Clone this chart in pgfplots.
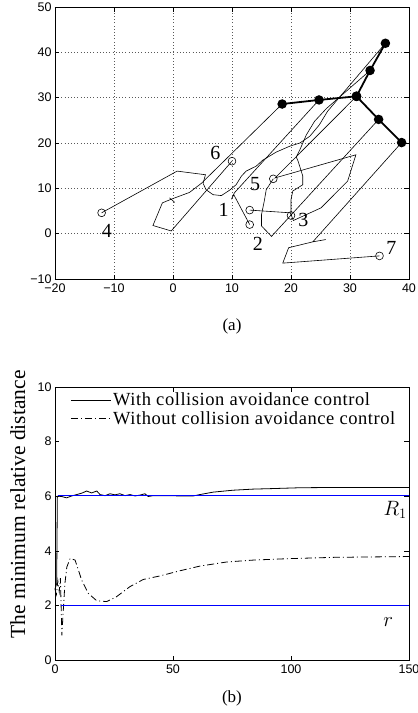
\documentclass[border=0pt]{standalone}
\usepackage{fontspec}
\setmainfont{Liberation Serif}
\newfontfamily\hv{Liberation Sans}
\newfontfamily\legfont[LetterSpace=3]{Liberation Serif}
\usepackage{xcolor}
\usepackage{pgfplots}
\pgfplotsset{compat=1.18}

\begin{document}
\begin{tikzpicture}
\useasboundingbox (-55pt,-434pt) rectangle (363pt,279pt);
\pgfplotsset{
  every axis/.append style={
    scale only axis, width=354pt,
    axis line style={line width=0.7pt},
    tick style={black, line width=0.6pt},
    major tick length=4.5pt,
    tick align=inside,
    tick label style={font=\hv\fontsize{12.5}{14}\selectfont},
    /pgf/number format/assume math mode=true,
    clip=false,
  },
  traj/.style={black, line width=0.6pt},
}

% (a) trajectories of the agents
\begin{axis}[at={(0pt,0pt)}, anchor=south west, height=272pt,
  xmin=-20, xmax=40, ymin=-10, ymax=50,
  xtick={-20,-10,...,40}, xticklabels={−20,−10,0,10,20,30,40},
  ytick={-10,0,...,50}, yticklabels={−10,0,10,20,30,40,50},
  xticklabel style={yshift=-1pt},
  grid=major, grid style={black!65, line width=0.5pt, dash pattern=on 0.6pt off 2.6pt},
]
% agent 1
\addplot[traj] coordinates {(13,5.2)(19.9,4.6)(20.4,2.9)(25.1,5.7)(29.6,11.6)(31.0,17.4)(17.3,12.3)(31.1,30.3)};
% agent 2
\addplot[traj] coordinates {(13,2.0)(10.3,8.6)(9.9,7.6)(10.4,9.0)(24.75,29.5)};
% agent 3
\addplot[traj] coordinates {(20,4)(20,7.5)(20.3,9.4)(22.0,10.8)(22.0,12.7)(21.2,16.0)(20.9,16.9)(21.5,18.5)(22.6,21.8)(24.0,24.8)(26.0,27.6)(33.4,36.0)};
% agent 4
\addplot[traj] coordinates {(-12.1,4.6)(0.7,13.8)(5.5,13.0)(5.1,11.1)(5.6,9.7)(6.8,8.6)(8.2,8.4)(9.6,9.6)(10.7,10.8)(11.6,12.7)(12.4,13.8)(14.1,14.9)(15.2,16.2)(17.5,18.0)(19.8,19.3)(21.5,20.0)(23.2,21.5)(24.8,24.0)(26.2,27.0)(36.0,42.0)};
% agent 5
\addplot[traj] coordinates {(17.0,12.1)(15.8,9.7)(15.5,7.4)(15.0,4.2)(15.0,1.7)(16.7,-0.6)(34.85,25.2)};
% agent 6
\addplot[traj] coordinates {(10,16)(-0.3,0.6)(-3.4,1.8)(-1.8,6.8)(-0.1,7.7)(2.8,9.1)(4.8,11.1)(18.5,28.6)};
\addplot[traj] coordinates {(-0.6,7.9)(0.3,6.9)};
% agent 7
\addplot[traj] coordinates {(35,-4.9)(18.6,-6.5)(19.6,-3.1)(23.7,-1.8)(25.9,-1.3)(23.7,-1.8)(38.75,20.1)};

% starting positions
\addplot[only marks, mark=o, mark size=3.9pt, mark options={line width=0.6pt}] coordinates {
  (13,5.2)(13,2.0)(20,4)(-12.1,4.6)(17.0,12.1)(10,16)(35,-4.9)};

% final formation
\addplot[black, line width=1.8pt, mark=*, mark size=3.8pt] coordinates {(18.5,28.6)(24.75,29.5)(31.1,30.3)};
\addplot[black, line width=1.8pt, mark=*, mark size=3.8pt] coordinates {(31.1,30.3)(33.4,36.0)(36.0,42.0)};
\addplot[black, line width=1.8pt, mark=*, mark size=3.8pt] coordinates {(31.1,30.3)(34.85,25.2)(38.75,20.1)};

\begin{scope}[font=\fontsize{20}{22}\selectfont]
\node at (axis cs:8.6,5.2) {1};
\node at (axis cs:14.4,-2.2) {2};
\node at (axis cs:22.1,3.1) {3};
\node at (axis cs:-11.2,0.7) {4};
\node at (axis cs:13.9,11.0) {5};
\node at (axis cs:7.2,17.8) {6};
\node at (axis cs:37.0,-3.1) {7};
\end{scope}
\node[font=\fontsize{17}{19}\selectfont] at ([yshift=-47pt]rel axis cs:0.5,0) {(a)};
\end{axis}

% (b) minimum relative distance
\begin{axis}[at={(0pt,-108pt)}, anchor=north west, height=273pt,
  xmin=0, xmax=150, ymin=0, ymax=10,
  xtick={0,50,100,150}, ytick={0,2,...,10},
  xticklabel style={yshift=-1pt},
  ylabel={The minimum relative distance},
  ylabel style={font=\fontsize{21.5}{24}\selectfont, at={(axis description cs:-0.105,0.57)}, anchor=center},
  legend style={at={(axis description cs:0.04,0.99)}, anchor=north west, draw=none, fill=none,
    font=\legfont\fontsize{18.5}{20}\selectfont, row sep=0pt, inner sep=1pt},
  legend cell align=left,
  legend image code/.code={\draw[#1] (0pt,0pt) -- (40pt,0pt);},
]
\addplot[black, line width=0.8pt] coordinates {
  (0,2.6)(0.7,2.8)(1.0,6.0)(2.8,5.99)(4.9,5.94)(7.1,6.01)(9.2,6.06)(11.3,6.11)(13.4,6.19)
  (15.5,6.12)(17.7,6.19)(19.1,6.06)(21.2,6.02)(23.3,6.09)(25.4,6.05)(27.5,6.09)(29.7,6.02)
  (31.8,6.06)(33.9,6.01)(36.0,6.04)(38.1,6.09)(39.5,5.99)(41.7,6.02)(47.3,6.02)(53.0,6.01)
  (58.6,6.01)(61.4,6.06)(67.1,6.15)(75.5,6.22)(84.0,6.26)(92.5,6.28)(103.8,6.31)(117.9,6.32)(150,6.32)};
\addlegendentry{With collision avoidance control}
\addplot[black, line width=0.8pt, dash pattern=on 7pt off 3pt on 1pt off 3pt] coordinates {
  (0,2.6)(0.6,2.4)(1.2,2.9)(1.8,2.5)(2.3,3.0)(2.9,0.9)(3.5,1.8)(4.2,2.8)(5.0,3.4)(6.4,3.72)
  (8.5,3.66)(11.3,2.93)(14.1,2.44)(17.7,2.17)(21.9,2.14)(26.1,2.32)(31.8,2.69)(37.4,2.95)
  (44.5,3.08)(53.0,3.27)(61.4,3.44)(72.7,3.59)(84.0,3.66)(98.2,3.71)(117.9,3.76)(150,3.79)};
\addlegendentry{Without collision avoidance control}
\addplot[blue, line width=1.4pt, forget plot] coordinates {(1.2,6.03)(150,6.03)};
\addplot[blue, line width=1.4pt, forget plot] coordinates {(2.4,2.0)(150,2.0)};
\node[font=\fontsize{19.5}{21}\selectfont] at (axis cs:144.1,5.49) {$R_1$};
\node[font=\fontsize{19.5}{21}\selectfont] at (axis cs:141.2,1.40) {$r$};
\node[font=\fontsize{17}{19}\selectfont] at ([yshift=-38pt]rel axis cs:0.5,0) {(b)};
\end{axis}
\end{tikzpicture}
\end{document}
